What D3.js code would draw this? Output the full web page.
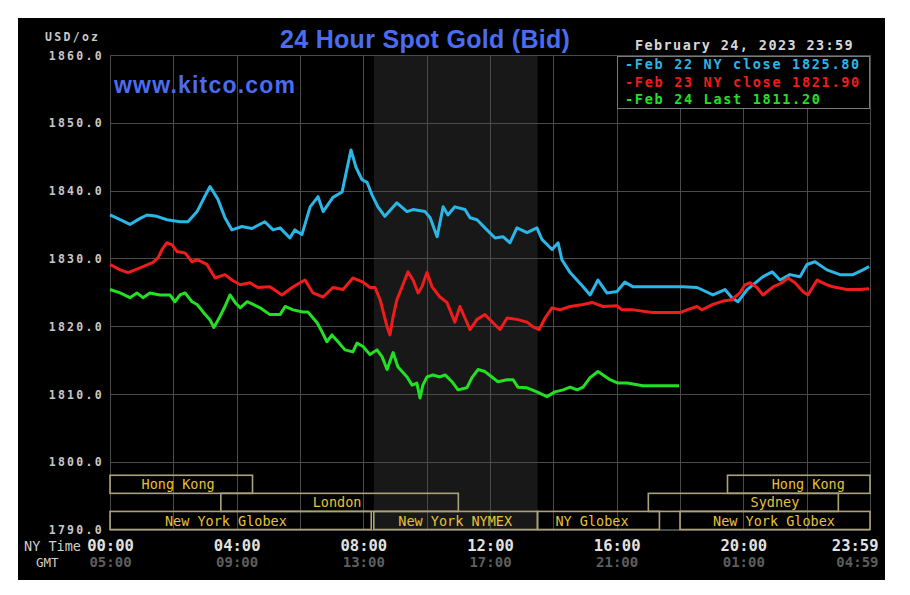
<!DOCTYPE html>
<html>
<head>
<meta charset="utf-8">
<script src="https://cdn.jsdelivr.net/npm/d3@7"></script>
<style>
  html, body { margin: 0; padding: 0; background: #ffffff; }
  svg { display: block; }
</style>
</head>
<body>
<svg id="chart" width="910" height="595"></svg>
<script>
// ---------------- DATA ----------------
const yTicks = [1790, 1800, 1810, 1820, 1830, 1840, 1850, 1860];
const gridHours = [0, 2, 4, 6, 8, 10, 12, 14, 16, 18, 20, 22, 24];
const labelHours = [0, 4, 8, 12, 16, 20, 24];
const nyTimeLabels = ["00:00", "04:00", "08:00", "12:00", "16:00", "20:00", "23:59"];
const gmtLabels = ["05:00", "09:00", "13:00", "17:00", "21:00", "01:00", "04:59"];

const seriesNames = ["Feb 22 NY close 1825.80", "Feb 23 NY close 1821.90", "Feb 24 Last 1811.20"];

// [hour (NY time), price]
const feb22 = [
  [0.00,1836.4],[0.32,1835.7],[0.63,1835.0],[0.95,1835.9],[1.17,1836.4],[1.48,1836.2],[1.80,1835.7],
  [2.21,1835.4],[2.46,1835.4],[2.75,1836.9],[3.00,1839.2],[3.16,1840.6],[3.41,1838.7],[3.63,1836.0],
  [3.85,1834.2],[4.17,1834.7],[4.48,1834.4],[4.89,1835.4],[5.15,1834.2],[5.37,1834.5],[5.68,1833.0],
  [5.84,1834.2],[6.06,1833.5],[6.32,1837.6],[6.57,1839.1],[6.73,1836.9],[7.04,1839.0],[7.33,1839.8],
  [7.61,1846.0],[7.77,1843.4],[7.96,1841.6],[8.12,1841.2],[8.27,1839.4],[8.46,1837.6],[8.68,1836.2],
  [9.06,1838.2],[9.38,1836.9],[9.57,1837.2],[9.95,1836.9],[10.11,1836.0],[10.33,1833.2],[10.52,1837.6],
  [10.67,1836.4],[10.89,1837.6],[11.21,1837.2],[11.37,1836.0],[11.59,1835.7],[11.84,1834.5],[12.16,1833.0],
  [12.41,1833.2],[12.63,1832.3],[12.85,1834.5],[13.17,1833.8],[13.48,1834.5],[13.64,1832.8],[13.96,1831.3],
  [14.15,1832.3],[14.27,1829.8],[14.53,1827.9],[14.94,1825.8],[15.16,1824.6],[15.41,1826.8],[15.69,1824.9],
  [16.01,1825.1],[16.26,1826.5],[16.52,1825.8],[16.96,1825.8],[18.09,1825.8],[18.54,1825.7],[19.04,1824.6],
  [19.42,1825.4],[19.64,1824.2],[19.83,1823.6],[20.12,1825.4],[20.62,1827.3],[20.91,1828.0],[21.16,1826.8],
  [21.47,1827.6],[21.79,1827.3],[22.01,1829.1],[22.26,1829.5],[22.64,1828.3],[23.05,1827.6],[23.46,1827.6],
  [23.78,1828.3],[23.97,1828.8]
];
const feb23 = [
  [0.00,1829.1],[0.32,1828.3],[0.57,1827.9],[0.95,1828.6],[1.36,1829.4],[1.52,1830.1],[1.64,1831.3],
  [1.80,1832.3],[1.96,1832.0],[2.12,1831.0],[2.37,1830.8],[2.59,1829.5],[2.75,1829.8],[3.06,1829.1],
  [3.32,1827.1],[3.63,1827.6],[3.85,1826.8],[4.11,1826.1],[4.42,1826.4],[4.67,1825.7],[5.05,1825.8],
  [5.43,1824.6],[5.75,1825.7],[6.00,1826.4],[6.16,1826.8],[6.41,1824.9],[6.73,1824.3],[7.04,1825.7],
  [7.36,1825.4],[7.67,1827.1],[7.99,1826.5],[8.21,1825.7],[8.37,1825.7],[8.53,1823.9],[8.75,1819.9],
  [8.84,1818.7],[8.94,1821.4],[9.06,1823.9],[9.25,1826.1],[9.41,1828.0],[9.57,1826.8],[9.73,1824.9],
  [9.85,1825.8],[10.01,1827.9],[10.17,1825.8],[10.42,1824.3],[10.64,1823.5],[10.89,1820.6],[11.05,1822.9],
  [11.21,1821.2],[11.37,1819.5],[11.59,1821.0],[11.84,1821.7],[12.16,1820.2],[12.32,1819.5],[12.54,1821.2],
  [12.85,1821.0],[13.17,1820.6],[13.36,1819.9],[13.55,1819.5],[13.74,1821.2],[13.96,1822.7],[14.21,1822.4],
  [14.53,1822.9],[14.94,1823.2],[15.22,1823.5],[15.57,1822.9],[16.01,1823.0],[16.17,1822.4],[16.52,1822.4],
  [17.12,1822.0],[18.00,1822.0],[18.22,1822.4],[18.54,1822.9],[18.69,1822.4],[19.04,1823.2],[19.36,1823.7],
  [19.64,1823.9],[19.89,1824.9],[20.05,1826.1],[20.21,1826.4],[20.43,1825.7],[20.62,1824.6],[20.94,1825.8],
  [21.22,1826.4],[21.41,1827.1],[21.63,1826.4],[21.88,1825.1],[22.04,1824.6],[22.33,1826.8],[22.64,1826.1],
  [22.83,1825.8],[23.27,1825.4],[23.68,1825.4],[23.97,1825.5]
];
const feb24 = [
  [0.00,1825.4],[0.32,1824.9],[0.63,1824.2],[0.85,1824.9],[1.04,1824.2],[1.26,1824.9],[1.58,1824.6],
  [1.89,1824.6],[2.05,1823.6],[2.21,1824.6],[2.37,1824.9],[2.59,1823.6],[2.75,1823.2],[2.94,1822.1],
  [3.16,1820.9],[3.28,1819.8],[3.47,1821.4],[3.63,1822.9],[3.79,1824.6],[3.95,1823.5],[4.11,1822.7],
  [4.33,1823.6],[4.52,1823.2],[4.74,1822.7],[5.05,1821.7],[5.37,1821.7],[5.53,1822.9],[5.78,1822.4],
  [6.09,1822.1],[6.25,1822.1],[6.54,1820.5],[6.69,1819.2],[6.85,1817.7],[7.01,1818.7],[7.20,1817.7],
  [7.42,1816.5],[7.67,1816.2],[7.80,1817.5],[7.99,1817.0],[8.21,1815.8],[8.43,1816.5],[8.59,1815.5],
  [8.75,1813.6],[8.94,1816.1],[9.09,1814.0],[9.38,1812.5],[9.54,1811.3],[9.69,1811.6],[9.79,1809.4],
  [9.88,1811.3],[10.01,1812.5],[10.20,1812.8],[10.42,1812.5],[10.58,1812.8],[10.80,1811.8],[10.99,1810.6],
  [11.27,1810.9],[11.43,1812.4],[11.62,1813.6],[11.84,1813.3],[12.06,1812.5],[12.25,1811.8],[12.54,1812.1],
  [12.73,1812.1],[12.88,1811.0],[13.17,1810.9],[13.48,1810.3],[13.80,1809.6],[14.05,1810.3],[14.31,1810.6],
  [14.53,1811.0],[14.75,1810.6],[14.94,1811.0],[15.16,1812.4],[15.41,1813.3],[15.57,1812.8],[15.79,1812.1],
  [16.04,1811.6],[16.33,1811.6],[16.83,1811.2],[17.97,1811.2]
];

// market sessions: row (0 top), start hour, end hour, label, label centre hour
const sessions = [
  {row: 0, start: 0,     end: 4.5,   label: "Hong Kong",       at: 2.15},
  {row: 0, start: 19.5,  end: 24,    label: "Hong Kong",       at: 22.05},
  {row: 1, start: 3.5,   end: 11,    label: "London",          at: 7.17},
  {row: 1, start: 17,    end: 23,    label: "Sydney",          at: 21.0},
  {row: 2, start: 0,     end: 8.25,  label: "New York Globex", at: 3.66},
  {row: 2, start: 8.33,  end: 13.5,  label: "New York NYMEX",  at: 10.9},
  {row: 2, start: 13.5,  end: 17.35, label: "NY Globex",       at: 15.22},
  {row: 2, start: 18.0,  end: 24,    label: "New York Globex", at: 20.97}
];
const shadeHours = [8.33, 13.5];

// ---------------- DRAW ----------------
const svg = d3.select("#chart");
const mono = "'DejaVu Sans Mono', 'Liberation Mono', monospace";
const sans = "'Liberation Sans', Arial, Helvetica, sans-serif";
const colors = ["#2bb6e8", "#f01c1c", "#22e022"];
const gridColor = "#4a4a4a";

const x = d3.scaleLinear().domain([0, 24]).range([110, 870]);
const y = d3.scaleLinear().domain([1790, 1860]).range([529.5, 55]);

svg.append("rect").attr("x", 18).attr("y", 18).attr("width", 867).attr("height", 562).attr("fill", "#000");

// NYMEX shade
svg.append("rect")
  .attr("x", x(shadeHours[0])).attr("y", y(1860))
  .attr("width", x(shadeHours[1]) - x(shadeHours[0]))
  .attr("height", y(1790) - y(1860))
  .attr("fill", "#181818");

// vertical grid
const gx = svg.append("g").attr("transform", `translate(0,${y(1790)})`)
  .call(d3.axisBottom(x).tickValues(gridHours).tickSize(-(y(1790) - y(1860))).tickFormat(""));
gx.select(".domain").remove();
gx.selectAll("line").attr("stroke", gridColor).attr("shape-rendering", "crispEdges");

// horizontal grid + y labels
const gy = svg.append("g").attr("transform", `translate(${x(0)},0)`)
  .call(d3.axisLeft(y).tickValues(yTicks).tickSize(-(x(24) - x(0))).tickPadding(6).tickFormat(d3.format(".1f")));
gy.select(".domain").remove();
gy.selectAll("line").attr("stroke", gridColor).attr("shape-rendering", "crispEdges");
gy.selectAll("text")
  .attr("fill", "#c8c8c8").attr("font-family", mono).attr("font-weight", "bold")
  .attr("font-size", "11.5px").attr("letter-spacing", "2.3px").attr("dy", "0.36em");

// plot border
svg.append("rect")
  .attr("x", x(0)).attr("y", y(1860)).attr("width", x(24) - x(0)).attr("height", y(1790) - y(1860))
  .attr("fill", "none").attr("stroke", gridColor).attr("shape-rendering", "crispEdges");

// market session boxes
const rowTop = y(1798);
const rowH = (y(1790) - y(1798)) / 3;
const sess = svg.append("g");
sess.selectAll("rect").data(sessions).join("rect")
  .attr("x", d => x(d.start)).attr("y", d => rowTop + d.row * rowH)
  .attr("width", d => x(d.end) - x(d.start)).attr("height", rowH)
  .attr("fill", "none").attr("stroke", "#aaa37a").attr("stroke-width", 1.6);
sess.selectAll("text").data(sessions).join("text")
  .attr("x", d => x(d.at)).attr("y", d => rowTop + (d.row + 1) * rowH - 4)
  .attr("text-anchor", "middle")
  .attr("fill", "#e6c23a").attr("font-family", mono).attr("font-size", "13.5px")
  .text(d => d.label);

// lines
const line = d3.line().x(d => x(d[0])).y(d => y(d[1])).curve(d3.curveLinear);
[feb22, feb23, feb24].forEach((s, i) => {
  svg.append("path").datum(s).attr("d", line)
    .attr("fill", "none").attr("stroke", colors[i]).attr("stroke-width", 3)
    .attr("stroke-linejoin", "round");
});

// x labels
function xLabels(labels, yPos, fill, size) {
  const g = svg.append("g").attr("transform", `translate(0,${yPos})`)
    .call(d3.axisBottom(x).tickValues(labelHours).tickSize(0).tickPadding(0)
      .tickFormat((d, i) => labels[i]));
  g.select(".domain").remove();
  g.selectAll("text")
    .attr("fill", fill).attr("font-family", mono).attr("font-weight", "bold")
    .attr("font-size", size).attr("dy", "0")
    .attr("text-anchor", (d, i) => i === labels.length - 1 ? "end" : "middle")
    .attr("dx", (d, i) => i === labels.length - 1 ? 8 : 0);
}
xLabels(nyTimeLabels, 551, "#e2e2e2", "15.5px");
xLabels(gmtLabels, 567, "#5e5e5e", "14px");

svg.append("text").attr("x", 24).attr("y", 551).attr("fill", "#cfcfcf")
  .attr("font-family", mono).attr("font-size", "13.5px").text("NY Time");
svg.append("text").attr("x", 36).attr("y", 567).attr("fill", "#cfcfcf")
  .attr("font-family", mono).attr("font-size", "12.5px").text("GMT");

svg.append("text").attr("x", 45).attr("y", 41).attr("fill", "#c8c8c8")
  .attr("font-family", mono).attr("font-weight", "bold").attr("font-size", "11.5px")
  .attr("letter-spacing", "2.3px").text("USD/oz");

// titles
svg.append("text").attr("x", 280).attr("y", 48).attr("fill", "#4c6cf0")
  .attr("font-family", sans).attr("font-weight", "bold").attr("font-size", "25px")
  .attr("letter-spacing", "0.3px").text("24 Hour Spot Gold (Bid)");
svg.append("text").attr("x", 114).attr("y", 93).attr("fill", "#4c6cf0")
  .attr("font-family", sans).attr("font-weight", "bold").attr("font-size", "23px")
  .attr("letter-spacing", "1.2px").text("www.kitco.com");

svg.append("text").attr("x", 635).attr("y", 50).attr("fill", "#d8d8d8")
  .attr("font-family", mono).attr("font-weight", "bold").attr("font-size", "13.5px")
  .attr("letter-spacing", "1.4px").text("February 24, 2023 23:59");

// legend
svg.append("rect").attr("x", 617.5).attr("y", 56.5).attr("width", 252).attr("height", 52)
  .attr("fill", "#000").attr("stroke", "#7a7a7a");
svg.append("g").selectAll("text").data(seriesNames).join("text")
  .attr("x", 625).attr("y", (d, i) => 69 + i * 17.5)
  .attr("fill", (d, i) => colors[i])
  .attr("font-family", mono).attr("font-weight", "bold").attr("font-size", "13.5px")
  .attr("letter-spacing", "1.7px")
  .text(d => "-" + d);
</script>
</body>
</html>
